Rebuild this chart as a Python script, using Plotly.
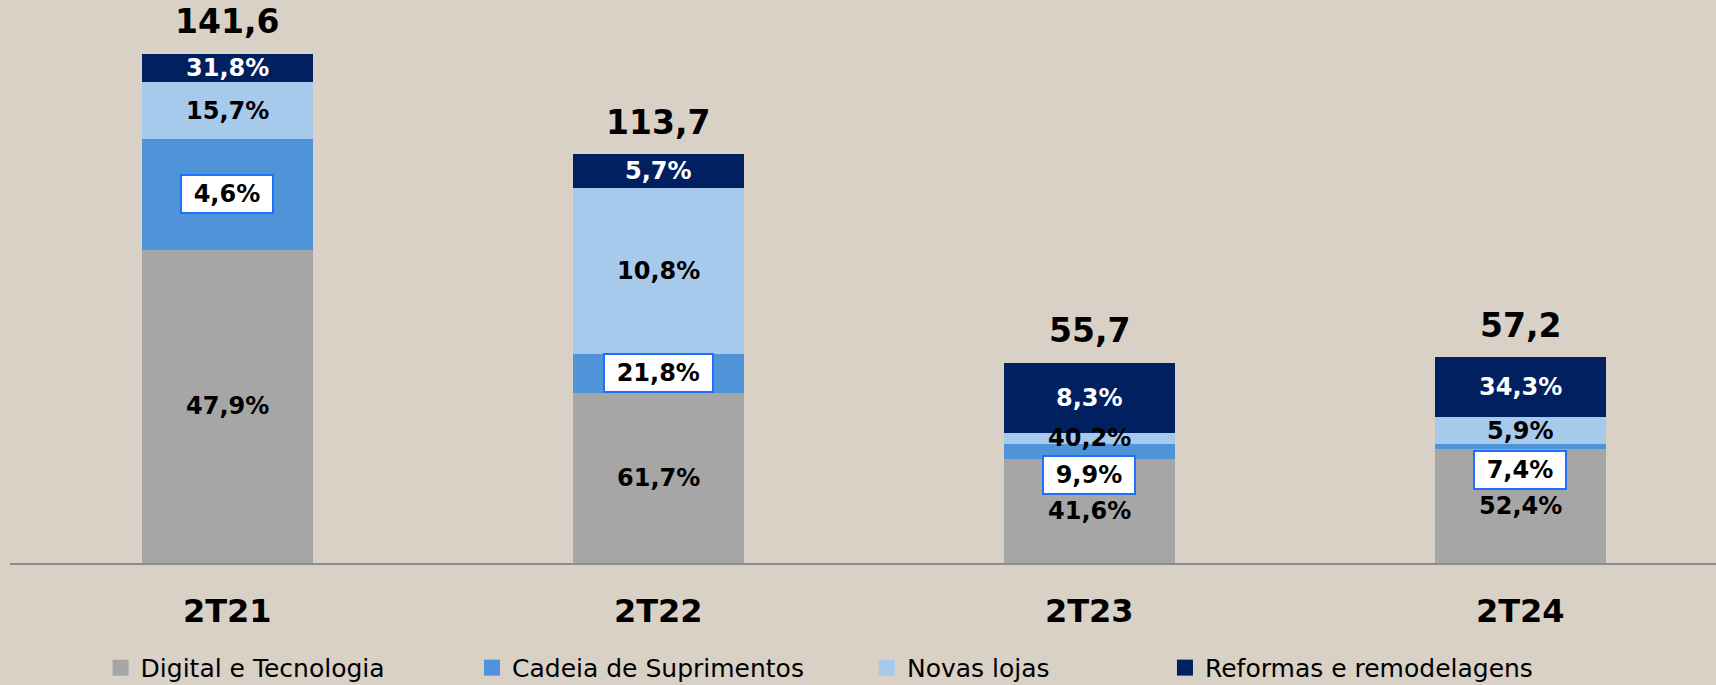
import plotly.graph_objects as go

categories = ["2T21", "2T22", "2T23", "2T24"]
totals = [141.6, 113.7, 55.7, 57.2]
total_labels = ["141,6", "113,7", "55,7", "57,2"]

series_names = ["Digital e Tecnologia", "Cadeia de Suprimentos", "Novas lojas", "Reformas e remodelagens"]
digital = [87.1, 47.4, 28.9, 31.8]
cadeia = [30.9, 10.8, 4.2, 1.3]
novas = [15.7, 46.2, 3.2, 7.5]
reformas = [7.9, 9.3, 19.4, 16.6]

digital_lbl = ["47,9%", "61,7%", "41,6%", "52,4%"]
cadeia_lbl = ["4,6%", "21,8%", "9,9%", "7,4%"]
novas_lbl = ["15,7%", "10,8%", "40,2%", "5,9%"]
reformas_lbl = ["31,8%", "5,7%", "8,3%", "34,3%"]

colors = ["#a6a6a6", "#4f94d8", "#a6c9ec", "#00205f"]
label_colors = ["black", "black", "black", "white"]
box_shift = [0, 0, -23, -24]  # pixel offsets of boxed labels
BG = "#d9d1c5"
FONT = "DejaVu Sans"

values = [digital, cadeia, novas, reformas]
labels = [digital_lbl, cadeia_lbl, novas_lbl, reformas_lbl]
xpos = list(range(len(categories)))

fig = go.Figure()
legend_ids = ["legend", "legend2", "legend3", "legend4"]
for i, (name, vals) in enumerate(zip(series_names, values)):
    fig.add_trace(go.Bar(
        x=xpos, y=vals, name=name, marker=dict(color=colors[i], line=dict(width=0)),
        width=0.398, showlegend=False, hoverinfo="skip",
    ))
    # legend entry with a larger square swatch
    fig.add_trace(go.Scatter(
        x=[None], y=[None], mode="markers", name=name, legend=legend_ids[i],
        marker=dict(symbol="square", size=16, color=colors[i]), hoverinfo="skip",
    ))

annotations = []
for j in xpos:
    base = 0
    for i, vals in enumerate(values):
        mid = base + vals[j] / 2
        base += vals[j]
        if i == 1:
            annotations.append(dict(
                x=j, y=mid, xref="x", yref="y",
                text="\u00a0<b>%s</b>\u00a0" % labels[i][j],
                showarrow=False, yshift=box_shift[j],
                font=dict(family=FONT, size=24, color="black"),
                bgcolor="white", bordercolor="#1f6fff", borderwidth=2, borderpad=4,
            ))
        else:
            annotations.append(dict(
                x=j, y=mid, xref="x", yref="y", text="<b>%s</b>" % labels[i][j],
                showarrow=False, font=dict(family=FONT, size=24, color=label_colors[i]),
            ))
    annotations.append(dict(
        x=j, y=totals[j], xref="x", yref="y", text="<b>%s</b>" % total_labels[j],
        showarrow=False, yshift=32, font=dict(family=FONT, size=33, color="black"),
    ))
    annotations.append(dict(
        x=j, y=0, xref="x", yref="y", text="<b>%s</b>" % categories[j],
        showarrow=False, yshift=-48, font=dict(family=FONT, size=32, color="black"),
    ))

legend_x = [0.0531, 0.2708, 0.5023, 0.6770]
legend_kw = {}
for k, lid in enumerate(legend_ids):
    legend_kw[lid] = dict(
        x=legend_x[k], y=0.025, yref="container", xanchor="left", yanchor="middle",
        orientation="h",
        bgcolor="rgba(0,0,0,0)", font=dict(family=FONT, size=25, color="black"),
        itemclick=False, itemdoubleclick=False,
    )

fig.update_layout(
    width=1716, height=685,
    margin=dict(l=10, r=0, t=0, b=122, autoexpand=False),
    paper_bgcolor=BG, plot_bgcolor=BG,
    barmode="stack", bargap=0,
    showlegend=True,
    annotations=annotations,
    xaxis=dict(range=[-0.5046, 3.454], showticklabels=False, showgrid=False, zeroline=False,
               showline=True, linecolor="#8c8c8c", linewidth=2, ticks=""),
    yaxis=dict(range=[0, 156.6], visible=False),
    **legend_kw,
)

fig.write_html(
    "out.html",
    config={"displayModeBar": False},
    post_script="document.body.style.margin='0';document.body.style.background='%s';" % BG,
)
